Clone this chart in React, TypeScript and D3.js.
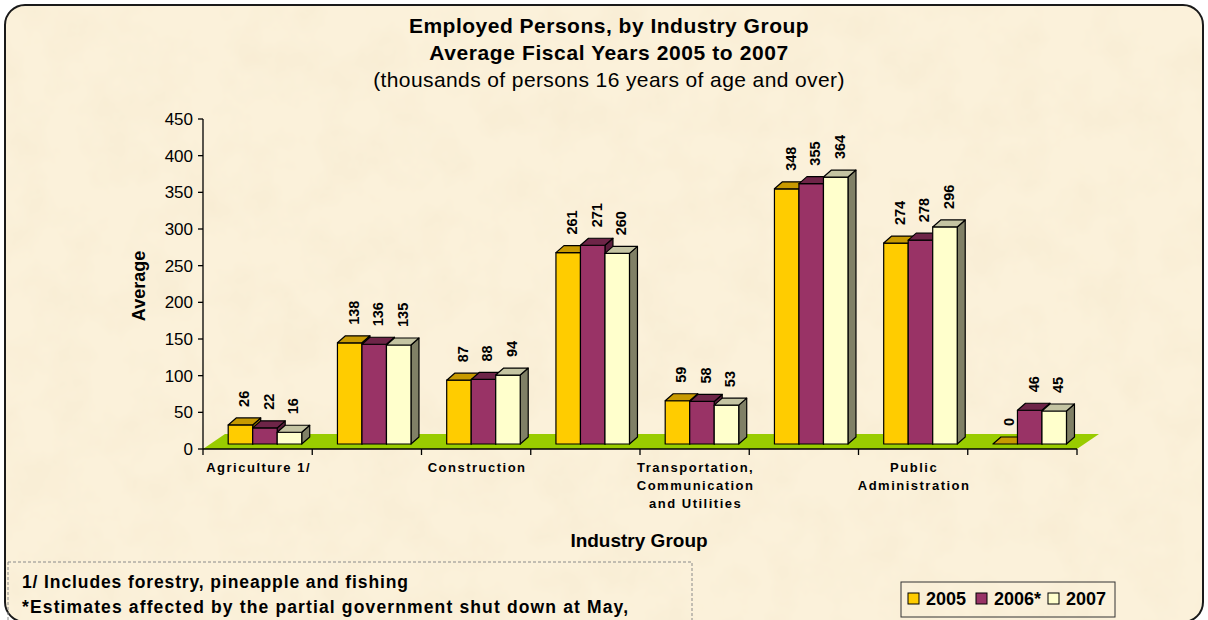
import React from "react";
import * as d3 from "d3";

const categories = [
  "Agriculture 1/",
  "Manufacturing",
  "Construction",
  "Trade",
  "Transportation,\nCommunication\nand Utilities",
  "Services",
  "Public\nAdministration",
  "Other",
];
const seriesNames = ["2005", "2006*", "2007"];
const values2005 = [26, 138, 87, 261, 59, 348, 274, 0];
const values2006 = [22, 136, 88, 271, 58, 355, 278, 46];
const values2007 = [16, 135, 94, 260, 53, 364, 296, 45];
const yTicks = [0, 50, 100, 150, 200, 250, 300, 350, 400, 450];

const frontColors = ["#FFCC00", "#993366", "#FFFFCC"];
const topColors = ["#C89A00", "#6E2548", "#C4C4A2"];
const sideColors = ["#9A7A00", "#5A1E3C", "#808066"];

const FONT = "'Liberation Sans', Arial, Helvetica, sans-serif";

export default function App() {
  const W = 1208;
  const H = 620;
  const axisLeft = 203;
  const axisRight = 1077;
  const axisBottom = 449;
  const axisTop = 119;
  const floorDx = 22;
  const floorDy = -15;
  const barDepthFrac = 1 / 3;
  const shiftX = floorDx * barDepthFrac;
  const shiftY = floorDy * barDepthFrac;
  const bdx = 8;
  const bdy = -7;

  const series = [values2005, values2006, values2007];

  const y = d3.scaleLinear().domain([0, 450]).range([axisBottom, axisTop]);
  const x0 = d3
    .scaleBand<string>()
    .domain(categories)
    .range([axisLeft, axisRight])
    .paddingInner(0.327)
    .paddingOuter(0.1635);
  const x1 = d3
    .scaleBand<string>()
    .domain(seriesNames)
    .range([0, x0.bandwidth()]);
  const step = x0.step();
  const catCenter = (c: string) => (x0(c) as number) + x0.bandwidth() / 2;

  const floorPts = [
    [axisLeft, axisBottom],
    [axisRight, axisBottom],
    [axisRight + floorDx, axisBottom + floorDy],
    [axisLeft + floorDx, axisBottom + floorDy],
  ];
  const line = d3.line();

  const boundaries = d3.range(categories.length + 1).map((i) => axisLeft + step * i);

  return (
    <svg
      width={W}
      height={H}
      style={{ position: "absolute", left: 0, top: 0, display: "block" }}
      fontFamily={FONT}
    >
      <defs>
        <filter id="paper" x="0" y="0" width="100%" height="100%">
          <feTurbulence type="fractalNoise" baseFrequency="0.022" numOctaves="4" seed="7" result="n" />
          <feColorMatrix
            in="n"
            type="matrix"
            values="0 0 0 0 0.93  0 0 0 0 0.83  0 0 0 0 0.64  0 0 0 1.3 -0.5"
          />
        </filter>
        <clipPath id="frameClip">
          <rect x={5} y={5} width={1198} height={617} rx={20} ry={20} />
        </clipPath>
      </defs>
      <rect x={0} y={0} width={W} height={H} fill="#ffffff" />
      <g clipPath="url(#frameClip)">
        <rect x={5} y={5} width={1198} height={617} fill="#FBF1DA" />
        <rect x={5} y={5} width={1198} height={617} filter="url(#paper)" />
      </g>
      <rect x={5} y={5} width={1198} height={617} rx={20} ry={20} fill="none" stroke="#1a1a1a" strokeWidth={2} />

      {/* Titles */}
      <g textAnchor="middle" fill="#000">
        <text x={609} y={33} fontSize={21} fontWeight="bold" letterSpacing={0.5}>
          Employed Persons, by Industry Group
        </text>
        <text x={609} y={60} fontSize={21} fontWeight="bold" letterSpacing={0.6}>
          Average Fiscal Years 2005 to 2007
        </text>
        <text x={609} y={87} fontSize={21} letterSpacing={0.4}>
          (thousands of persons 16 years of age and over)
        </text>
      </g>

      {/* Floor */}
      <path d={line(floorPts as [number, number][]) + "Z"} fill="#99CC00" />

      {/* Y axis */}
      <line x1={axisLeft} x2={axisLeft} y1={axisTop} y2={axisBottom} stroke="#000" strokeWidth={1.3} />
      {yTicks.map((t) => (
        <g key={t}>
          <line x1={axisLeft - 5} x2={axisLeft} y1={y(t)} y2={y(t)} stroke="#000" strokeWidth={1.3} />
          <text x={axisLeft - 10} y={y(t) + 6} fontSize={17} textAnchor="end" fill="#000">
            {t}
          </text>
        </g>
      ))}
      <text
        transform={`translate(145,286) rotate(-90)`}
        fontSize={18}
        fontWeight="bold"
        textAnchor="middle"
        fill="#000"
      >
        Average
      </text>

      {/* X axis */}
      <line x1={axisLeft} x2={axisRight} y1={axisBottom} y2={axisBottom} stroke="#000" strokeWidth={1.3} />
      {boundaries.map((bx, i) => (
        <line key={i} x1={bx} x2={bx} y1={axisBottom} y2={axisBottom + 6} stroke="#000" strokeWidth={1.3} />
      ))}
      {categories.map((c, i) =>
        i % 2 === 0 ? (
          <text key={c} fontSize={13} fontWeight="bold" textAnchor="middle" letterSpacing={1.5} fill="#000">
            {c.split("\n").map((ln, k) => (
              <tspan key={k} x={catCenter(c) + 1} y={472 + k * 18}>
                {ln}
              </tspan>
            ))}
          </text>
        ) : null
      )}
      <text x={639} y={547} fontSize={19} fontWeight="bold" textAnchor="middle" fill="#000">
        Industry Group
      </text>

      {/* Bars */}
      {categories.map((c) => (
        <g key={c}>
          {seriesNames.map((s, j) => {
            const v = series[j][categories.indexOf(c)];
            const bx = (x0(c) as number) + (x1(s) as number) + shiftX;
            const w = x1.bandwidth();
            const yb = y(0) + shiftY;
            const yt = y(v) + shiftY;
            const top: [number, number][] = [
              [bx, yt],
              [bx + bdx, yt + bdy],
              [bx + w + bdx, yt + bdy],
              [bx + w, yt],
            ];
            const side: [number, number][] = [
              [bx + w, yt],
              [bx + w + bdx, yt + bdy],
              [bx + w + bdx, yb + bdy],
              [bx + w, yb],
            ];
            return (
              <g key={s} stroke="#000" strokeWidth={1.2} strokeLinejoin="round">
                {v > 0 && <path d={line(side) + "Z"} fill={sideColors[j]} />}
                {v > 0 && <rect x={bx} y={yt} width={w} height={yb - yt} fill={frontColors[j]} />}
                <path d={line(top) + "Z"} fill={topColors[j]} />
              </g>
            );
          })}
        </g>
      ))}

      {/* Data labels */}
      {categories.map((c) =>
        seriesNames.map((s, j) => {
          const v = series[j][categories.indexOf(c)];
          const bx = (x0(c) as number) + (x1(s) as number) + shiftX + x1.bandwidth() / 2 + 4;
          const yt = y(v) + shiftY - 18;
          return (
            <text
              key={c + s}
              transform={`translate(${bx},${yt}) rotate(-90)`}
              fontSize={14.5}
              fontWeight="bold"
              dominantBaseline="central"
              fill="#000"
            >
              {v}
            </text>
          );
        })
      )}

      {/* Footnote box */}
      <rect
        x={8}
        y={562}
        width={684}
        height={80}
        fill="none"
        stroke="#8a8a8a"
        strokeWidth={1}
        strokeDasharray="3,2"
      />
      <text x={22} y={588} fontSize={17.5} fontWeight="bold" fill="#000" textLength={386} lengthAdjust="spacing">
        1/  Includes forestry, pineapple and fishing
      </text>
      <text x={22} y={613} fontSize={17.5} fontWeight="bold" fill="#000" textLength={606} lengthAdjust="spacing">
        *Estimates affected by the partial government shut down at May,
      </text>

      {/* Legend */}
      <rect x={901} y={582} width={214} height={35} fill="none" stroke="#333" strokeWidth={1} />
      {seriesNames.map((s, j) => {
        const lx = [908, 976, 1048][j];
        return (
          <g key={s}>
            <rect x={lx} y={593} width={11} height={11} fill={frontColors[j]} stroke="#000" strokeWidth={1} />
            <text x={lx + 18} y={605} fontSize={18} fontWeight="bold" fill="#000">
              {s}
            </text>
          </g>
        );
      })}
    </svg>
  );
}
